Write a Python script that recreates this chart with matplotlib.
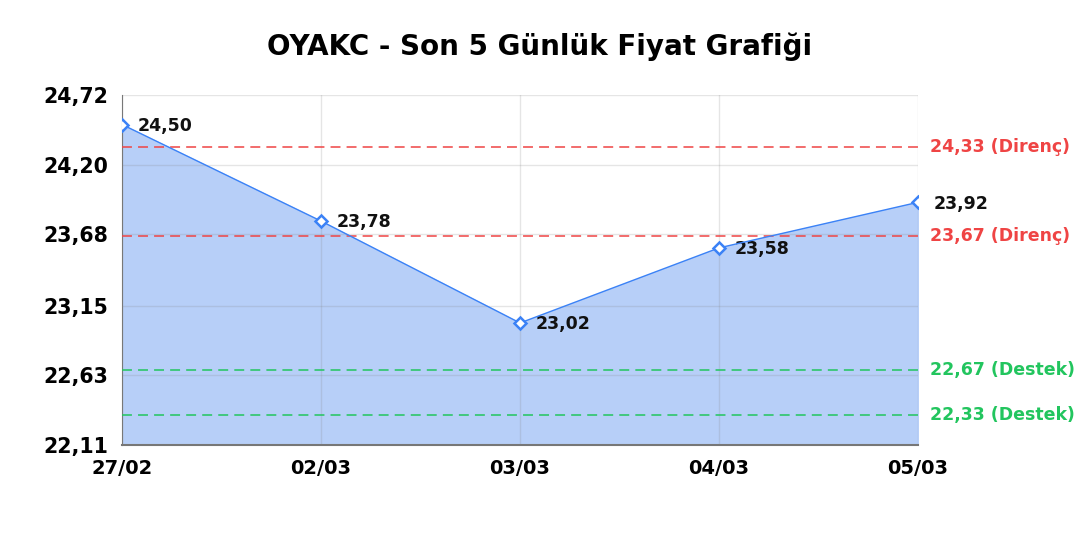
import numpy as np
import matplotlib.pyplot as plt

# OYAKC son 5 gun
dates = ['27/02', '02/03', '03/03', '04/03', '05/03']
prices = [24.50, 23.78, 23.02, 23.58, 23.92]
resistance = [24.33, 23.67]
support = [22.67, 22.33]
yticks = [22.11, 22.63, 23.15, 23.68, 24.20, 24.72]

def fmt(v):
    return ('%.2f' % v).replace('.', ',')

fig = plt.figure(figsize=(10.8, 5.4), dpi=100)
ax = fig.add_axes([0.113, 0.176, 0.737, 0.648])

x = np.arange(len(dates))
ax.fill_between(x, prices, yticks[0], color='#b7cff8', zorder=1)
ax.plot(x, prices, color='#3b82f6', lw=1, marker='D', markersize=6,
        markerfacecolor='white', markeredgecolor='#3b82f6', markeredgewidth=1.8, zorder=4)

for xi, p in zip(x, prices):
    ax.annotate(fmt(p), (xi, p), xytext=(11.5, -1), textcoords='offset points',
                ha='left', va='center', fontsize=12.5, fontweight='bold', color='#111111')

for r in resistance:
    ax.axhline(r, color='#ef4444', ls=(0, (6.5, 4)), lw=1.1, zorder=3)
    ax.text(1.015, r, fmt(r) + ' (Direnç)', transform=ax.get_yaxis_transform(),
            ha='left', va='center', fontsize=12.5, fontweight='bold', color='#ef4444')
for s in support:
    ax.axhline(s, color='#22c55e', ls=(0, (6.5, 4)), lw=1.1, zorder=3)
    ax.text(1.015, s, fmt(s) + ' (Destek)', transform=ax.get_yaxis_transform(),
            ha='left', va='center', fontsize=12.5, fontweight='bold', color='#22c55e')

ax.set_xlim(0, len(dates) - 1)
ax.set_ylim(yticks[0], yticks[-1])
ax.set_xticks(x)
ax.set_xticklabels(dates, fontsize=14, fontweight='bold')
ax.set_yticks(yticks)
ax.set_yticklabels([fmt(v) for v in yticks], fontsize=14.8, fontweight='bold')
ax.tick_params(axis='y', length=0, pad=10)
ax.tick_params(axis='x', length=0, pad=10)
ax.grid(True, color='#808080', alpha=0.2, lw=1, zorder=2)
ax.set_axisbelow(False)
for sp in ['top', 'right']:
    ax.spines[sp].set_visible(False)
ax.spines['left'].set_color('#777777')
ax.spines['bottom'].set_color('#777777')
ax.spines['bottom'].set_linewidth(1.5)

fig.suptitle('OYAKC - Son 5 Günlük Fiyat Grafiği', y=0.94, fontsize=20, fontweight='bold')

fig.savefig('out.png', dpi=100)
